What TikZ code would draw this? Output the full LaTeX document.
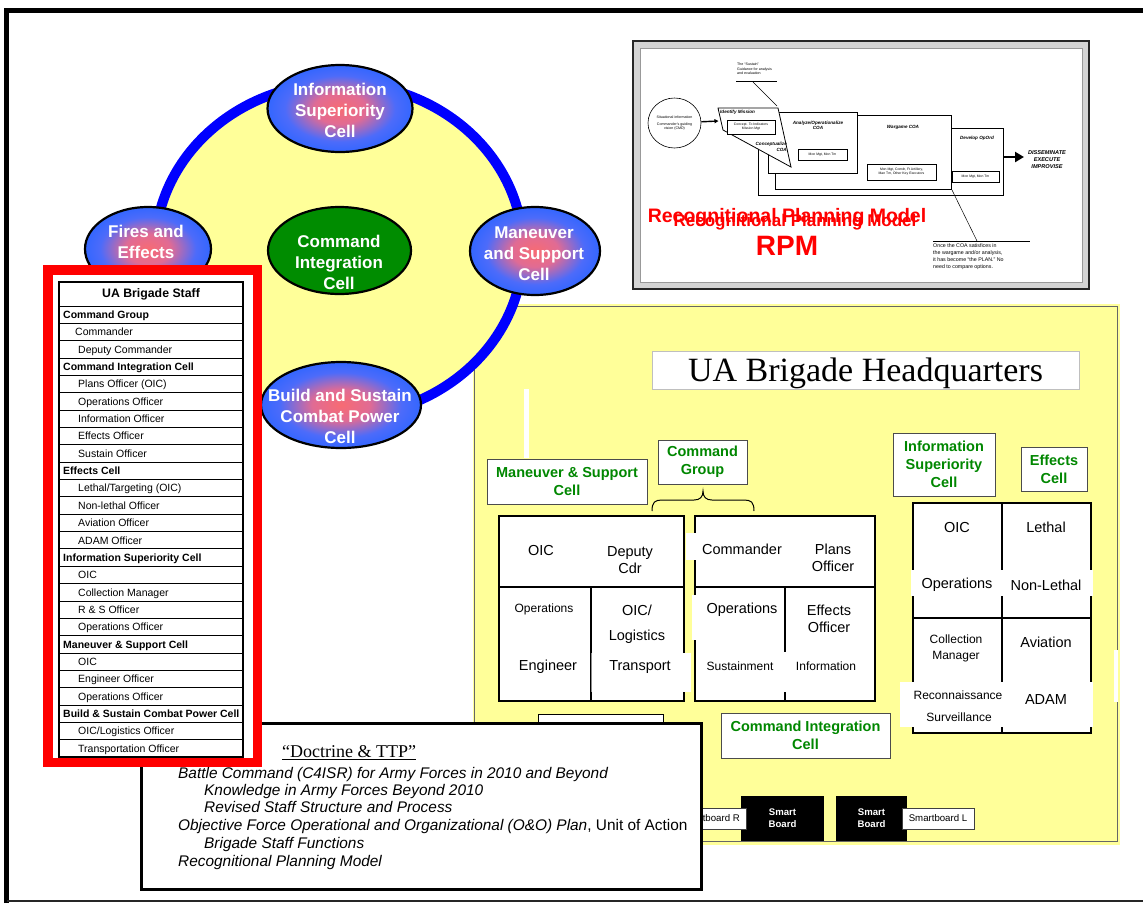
\documentclass[tikz,border=0pt]{standalone}
\usepackage{fontspec}
\setmainfont{Liberation Sans}
\newfontfamily\seriffont{Liberation Serif}
\usetikzlibrary{shapes.geometric, arrows.meta}
\definecolor{hqyellow}{RGB}{255,255,153}
\definecolor{cellgreen}{RGB}{0,140,0}
\definecolor{labelgreen}{RGB}{0,135,0}
\definecolor{ringblue}{RGB}{0,0,255}
\pgfdeclareradialshading{cellshade}{\pgfpoint{0bp}{0bp}}{rgb(0bp)=(0.97,0.42,0.45); rgb(9bp)=(0.88,0.42,0.58); rgb(19bp)=(0.3,0.42,0.98); rgb(25bp)=(0.2,0.4,1); rgb(50bp)=(0.2,0.4,1)}
\newcommand\staffrow[3]{\node[row#2] (r#1) at (0,{306+17.35*(#1-0.5)}) {#3};}
\begin{document}
\begin{tikzpicture}[x=1pt,y=-1pt,
  cellell/.style={ellipse, draw=black, line width=2.2pt, shading=cellshade, inner sep=0pt},
  celltxt/.style={text=white, font=\fontsize{17}{21}\selectfont\bfseries, align=center, inner sep=0pt},
  glab/.style={draw=black!70, line width=1pt, fill=white, text=labelgreen, font=\fontsize{14.5}{18}\selectfont\bfseries, align=center, inner sep=0pt},
  blk/.style={draw=black, line width=1.3pt, fill=white},
  bigt/.style={font=\fontsize{14.5}{17}\selectfont, align=center, inner sep=0pt},
  smallt/.style={font=\fontsize{12}{16}\selectfont, align=center, inner sep=0pt},
  patch/.style={fill=white},
  rowh/.style={anchor=west, xshift=63pt, font=\fontsize{10.5}{12}\selectfont\bfseries, text height=7.6pt, text depth=0pt, inner sep=0pt},
  rowc/.style={anchor=west, xshift=75pt, font=\fontsize{10.5}{12}\selectfont, text height=7.6pt, text depth=0pt, inner sep=0pt},
  rowi/.style={anchor=west, xshift=78pt, font=\fontsize{10.5}{12}\selectfont, text height=7.6pt, text depth=0pt, inner sep=0pt},
  board/.style={fill=black, text=white, font=\fontsize{9.6}{12}\selectfont\bfseries, align=center, inner sep=0pt},
  boardlab/.style={draw=black!75, line width=0.8pt, fill=white, font=\fontsize{9.65}{12}\selectfont, inner sep=0pt, minimum width=72pt, minimum height=21pt},
  dline/.style={anchor=west, font=\fontsize{15.4}{18}\selectfont\itshape, inner sep=0pt, text height=11pt, text depth=0pt},
  rpmt/.style={font=\fontsize{3.6}{4.4}\selectfont, inner sep=0pt, align=center},
  rpmb/.style={font=\fontsize{4.6}{5.6}\selectfont\bfseries\itshape, inner sep=0pt, align=center},
  rbox/.style={draw=black, line width=0.8pt, fill=white, inner sep=0pt},
  ibox/.style={draw=black, line width=0.5pt, fill=white, inner sep=0pt, font=\fontsize{3.4}{4.2}\selectfont, align=center}
]
\useasboundingbox (0,0) rectangle (1143,903);
\fill[white] (0,0) rectangle (1143,903);

% ===== UA Brigade Headquarters (yellow area) =====
\fill[hqyellow] (473,304) rectangle (1120,845);
\draw[black!60, line width=1pt] (474,306) rectangle (1117,841);
\fill[white] (524,389) rectangle (529,458);
\fill[white] (1114,650) rectangle (1118,702);
\node[draw=black!25, line width=1pt, fill=white, minimum width=427pt, minimum height=38pt, inner sep=0pt, text height=22.5pt, text depth=0pt, font=\seriffont\fontsize{34}{40}\selectfont] (hqtitle) at (865.5,370) {UA Brigade Headquarters};

\node[glab, minimum width=160pt, minimum height=45pt] (mslab) at (567,481.5) {Maneuver \& Support\\Cell};
\node[glab, minimum width=89pt, minimum height=44pt] (cglab) at (702.5,462) {Command\\Group};
\node[glab, minimum width=102pt, minimum height=63pt] (islab) at (944,464.5) {Information\\Superiority\\Cell};
\node[glab, minimum width=66pt, minimum height=44pt] (eclab) at (1054,469) {Effects\\Cell};
\node[glab, minimum width=169pt, minimum height=45pt] (cilab) at (805.5,735.5) {Command Integration\\Cell};
\draw[line width=1pt] (652,511) .. controls (652,502) and (655,500) .. (662,500) -- (694,500) .. controls (700,500) and (703,497) .. (703,491) .. controls (703,497) and (706,500) .. (712,500) -- (744,500) .. controls (751,500) and (754,502) .. (754,511);
\draw[blk, line width=1pt] (538,714) rectangle (663,775);

% left block: Maneuver & Support
\draw[blk] (499,516) rectangle (684,701);
\draw[line width=1.3pt] (499,587) -- (684,587);
\draw[line width=1.3pt] (591,587) -- (591,701);
\fill[patch] (591.8,653) rectangle (691,692);
\draw[black!45, line width=0.5pt] (591,653) -- (591,692);
\node[bigt] (msoic) at (541,550) {OIC};
\node[bigt] (msdep) at (630,560) {Deputy\\Cdr};
\node[smallt] (msops) at (544,609) {Operations};
\node[bigt] (msoic2) at (637,610) {OIC/};
\node[bigt] (mslog) at (637,637) {Logistics};
\node[bigt] (mseng) at (548,667) {Engineer};
\node[bigt] (mstra) at (640,667) {Transport};

% middle block: Command Group / CIC
\draw[blk] (695,516) rectangle (875,701);
\draw[line width=1.3pt] (695,587) -- (875,587);
\draw[line width=1.3pt] (785,587) -- (785,701);
\fill[patch] (685.5,533) rectangle (790,560);
\fill[patch] (692,595) rectangle (783,640);
\fill[patch] (700,652) rectangle (870,692);
\node[bigt] (cgcdr) at (742,549) {Commander};
\node[bigt] (cgplans) at (833,557.5) {Plans\\Officer};
\node[bigt] (cgops) at (742,610) {Operations};
\node[bigt] (cgeff) at (829,619) {Effects\\Officer};
\node[smallt] (cgsus) at (740,666) {Sustainment};
\node[smallt] (cginf) at (826,666) {Information};

% right block: Information Superiority / Effects
\draw[blk] (913,503) rectangle (1091,733);
\draw[line width=1.3pt] (913,618) -- (1091,618);
\draw[line width=1.3pt] (1002,503) -- (1002,733);
\fill[patch] (911,570) rectangle (1093,596);
\fill[patch] (900,682) rectangle (1093,727);
\node[bigt] (isoic) at (957,527) {OIC};
\node[bigt] (ecleth) at (1046,527) {Lethal};
\node[bigt] (isops) at (957,585) {Operations};
\node[bigt] (ecnon) at (1046,585) {Non-Lethal};
\node[smallt] (iscol) at (956,648) {Collection\\Manager};
\node[bigt] (ecav) at (1046,642) {Aviation};
\node[smallt] (isrec) at (958,695) {Reconnaissance};
\node[smallt] (issur) at (959,717) {Surveillance};
\node[bigt] (ecadam) at (1046,699) {ADAM};

% smart boards
\node[board, minimum width=83pt, minimum height=45pt] (sb1) at (782.5,818.5) {Smart\\Board};
\node[board, minimum width=71pt, minimum height=45pt] (sb2) at (871.5,818.5) {Smart\\Board};
\node[boardlab] (sbr) at (710,818.5) {};
\node[font=\fontsize{9.65}{12}\selectfont, inner sep=0pt, anchor=east] (sbrt) at (740,818.5) {Smartboard R};
\node[boardlab] (sbl) at (938,818.5) {Smartboard L};

% ===== cell ring =====
\draw[fill=hqyellow, draw=ringblue, line width=10pt] (339,250) ellipse [x radius=184, y radius=167];
\node[cellell, minimum width=145pt, minimum height=87pt] (isc) at (340,108.5) {};
\node[celltxt] (isct) at (340,110) {Information\\Superiority\\Cell};
\node[cellell, minimum width=126pt, minimum height=84pt] (fe) at (148,249) {};
\node[celltxt] (fet) at (146,242) {Fires and\\Effects};
\node[ellipse, draw=black, line width=2.2pt, fill=cellgreen, inner sep=0pt, minimum width=143pt, minimum height=87pt] (cic) at (339.5,250.5) {};
\node[celltxt] (cict) at (339,262) {Command\\Integration\\Cell};
\node[cellell, minimum width=130pt, minimum height=88pt] (ms) at (535,251) {};
\node[celltxt] (mst) at (534,254) {Maneuver\\and Support\\Cell};
\node[cellell, minimum width=160pt, minimum height=86pt] (bs) at (341,405) {};
\node[celltxt] (bst) at (340,416) {Build and Sustain\\Combat Power\\Cell};

% ===== Doctrine box =====
\draw[line width=3pt, fill=white] (141.5,723.5) rectangle (701.5,889.5);
\node[font=\seriffont\fontsize{18}{20}\selectfont, inner sep=0pt] (doctitle) at (349,753) {\underline{“Doctrine \& TTP”}};
\node[dline] (d1) at (178,773) {Battle Command (C4ISR) for Army Forces in 2010 and Beyond};
\node[dline] (d2) at (204,790) {Knowledge in Army Forces Beyond 2010};
\node[dline] (d3) at (204,807) {Revised Staff Structure and Process};
\node[dline] (d4) at (178,825) {Objective Force Operational and Organizational (O\&O) Plan{\upshape, Unit of Action}};
\node[dline] (d5) at (204,843) {Brigade Staff Functions};
\node[dline] (d6) at (178,861) {Recognitional Planning Model};

% ===== UA Brigade Staff table =====
\draw[red, line width=9.5pt, fill=white] (47.75,269.75) rectangle (257.25,762.25);
\node[font=\fontsize{12.3}{14}\selectfont\bfseries, inner sep=0pt] (stafftitle) at (151,294) {UA Brigade Staff};
\foreach \i in {0,...,25} \draw[line width=0.9pt] (59,{306+17.35*\i}) -- (243,{306+17.35*\i});
\draw[line width=1.6pt] (59,282) rectangle (243,757.1);
\staffrow{1}{h}{Command Group}
\staffrow{2}{c}{Commander}
\staffrow{3}{i}{Deputy Commander}
\staffrow{4}{h}{Command Integration Cell}
\staffrow{5}{i}{Plans Officer (OIC)}
\staffrow{6}{i}{Operations Officer}
\staffrow{7}{i}{Information Officer}
\staffrow{8}{i}{Effects Officer}
\staffrow{9}{i}{Sustain Officer}
\staffrow{10}{h}{Effects Cell}
\staffrow{11}{i}{Lethal/Targeting (OIC)}
\staffrow{12}{i}{Non-lethal Officer}
\staffrow{13}{i}{Aviation Officer}
\staffrow{14}{i}{ADAM Officer}
\staffrow{15}{h}{Information Superiority Cell}
\staffrow{16}{i}{OIC}
\staffrow{17}{i}{Collection Manager}
\staffrow{18}{i}{R \& S Officer}
\staffrow{19}{i}{Operations Officer}
\staffrow{20}{h}{Maneuver \& Support Cell}
\staffrow{21}{i}{OIC}
\staffrow{22}{i}{Engineer Officer}
\staffrow{23}{i}{Operations Officer}
\staffrow{24}{h}{Build \& Sustain Combat Power Cell}
\staffrow{25}{i}{OIC/Logistics Officer}
\staffrow{26}{i}{Transportation Officer}

% ===== RPM picture =====
\fill[black!17] (633,41) rectangle (1089,289);
\draw[line width=2pt, black!85] (633,41) rectangle (1089,289);
\draw[fill=white, draw=black!40, line width=0.6pt] (640,48) rectangle (1082,282);
\node[ellipse, draw=black, line width=0.6pt, minimum width=53pt, minimum height=50pt, inner sep=0pt] (sit) at (674.5,123) {};
\node[rpmt] (sittxt) at (674.5,123) {Situational information\\[3pt]Commander's guiding\\vision (CMD)};
\node[rbox, minimum width=245pt, minimum height=67pt, anchor=north west] (dev) at (758,128) {};
\node[rbox, minimum width=176pt, minimum height=74pt, anchor=north west] (war) at (775,115) {};
\node[rbox, minimum width=89pt, minimum height=61pt, anchor=north west] (ana) at (768,112) {};
\draw[line width=0.8pt, fill=white] (718,108) -- (778,108) -- (791,167) -- (723,130) -- cycle;
\coordinate (idin) at (718.5,121);
\draw[line width=1.4pt, -{Triangle[length=4pt,width=4pt]}] (sit) -- (idin);
\node[rpmb, anchor=west] (idt) at (720,112) {Identify Mission};
\node[ibox, minimum width=48pt, minimum height=14pt] (idbox) at (751,127) {Concept. To Indicators\\Mission Mgt};
\node[rpmb, align=right, anchor=east] (cct) at (787,147) {Conceptualize\\COA};
\node[rpmb] (anat) at (818,125.5) {Analyze/Operationalize\\COA};
\node[ibox, minimum width=49pt, minimum height=11pt] (anabox) at (822.5,154.5) {Mon Mgt, Mon Tm};
\node[rpmb] (wart) at (903,127) {Wargame COA};
\node[ibox, minimum width=69pt, minimum height=16pt] (warbox) at (901.5,172) {Mon Mgt, Comdr, Ft Artillery,\\Man Tm, Other Key Executors};
\node[rpmb] (devt) at (977,138) {Develop OpOrd};
\node[ibox, minimum width=47pt, minimum height=11pt] (devbox) at (975.5,176.5) {Mon Mgt, Mon Tm};
\coordinate (arre) at (1024,157);
\draw[line width=2.6pt, -{Triangle[length=9pt,width=10pt]}] (dev.east |- arre) -- (arre);
\node[font=\fontsize{5.6}{7}\selectfont\bfseries\itshape, inner sep=0pt, align=center] (dis) at (1047,160) {DISSEMINATE\\EXECUTE\\IMPROVISE};
\node[rpmt, align=left, anchor=north west] (sust) at (737,63) {The “Sustain”\\Guidance for analysis\\and evaluation};
\coordinate (sul) at (736,81); \coordinate (sur) at (777,81);
\coordinate (sua) at (753,82); \coordinate (sub) at (777,106);
\draw[line width=0.5pt] (sul) -- (sur);
\draw[line width=0.5pt] (sua) -- (sub);
\coordinate (ona) at (952,190); \coordinate (onb) at (977,241);
\coordinate (onl) at (933,241); \coordinate (onr) at (1030,241);
\draw[line width=0.5pt] (ona) -- (onb);
\draw[line width=0.5pt] (onl) -- (onr);
\node[font=\fontsize{5.3}{7}\selectfont, inner sep=0pt, align=left, anchor=north west] (once) at (933,243.5) {Once the COA satisfices in\\the wargame and/or analysis,\\it has become “the PLAN.” No\\need to compare options.};
\node[text=red, font=\fontsize{19.5}{21}\selectfont\bfseries, inner sep=0pt] (rpm1) at (787,217) {Recognitional Planning Model};
\node[text=red, font=\fontsize{17}{19}\selectfont\bfseries, inner sep=0pt] (rpm2) at (795,222) {Recognitional Planning Model};
\node[text=red, font=\fontsize{28}{30}\selectfont\bfseries, inner sep=0pt] (rpm3) at (787,246) {RPM};

% ===== page frame =====
\draw[line width=5pt] (6.5,903) -- (6.5,10.8) -- (1143,10.8);
\draw[line width=1.5pt, black!85] (6.5,901) -- (1143,901);
\end{tikzpicture}
\end{document}
